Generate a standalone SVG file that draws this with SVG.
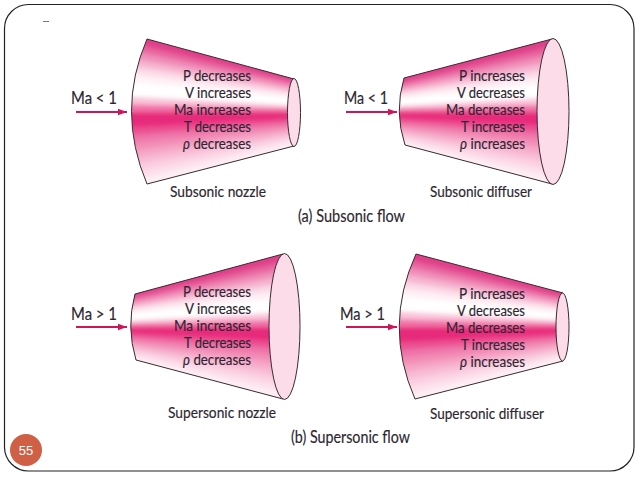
<svg xmlns="http://www.w3.org/2000/svg" xmlns:xlink="http://www.w3.org/1999/xlink" width="638" height="479" viewBox="0 0 638 479">
<style>
text{font-family:"Lato","Liberation Sans",sans-serif;fill:#2c2630;stroke:#2c2630;stroke-width:.15;}
.b{font-size:15px;text-anchor:end;}
.c{font-size:15px;}
.t{font-size:16.5px;}
.m{font-size:16.5px;}
.o{fill:none;stroke:#3a2a30;stroke-width:1;}
.e{fill:#fcdce9;stroke:#3a2a30;stroke-width:1;}
.a{fill:none;stroke:#cf1558;stroke-width:2.2;marker-end:url(#h);}
</style>
<defs>
<marker id="h" markerUnits="userSpaceOnUse" markerWidth="10" markerHeight="8" refX="9.5" refY="4" orient="auto"><path d="M0,.5 L9.5,4 L0,7.5 Z" fill="#cf1558"/></marker>
<filter id="s" x="-10%" y="-10%" width="120%" height="120%"><feGaussianBlur stdDeviation="2"/></filter>
<g id="bands">
<polygon fill="#e03f8a" points="-15,-135 110,-51 110,51 -15,135"/>
<polygon fill="#e866a0" points="-15,-97.3 110,-36.5 110,51 -15,135"/>
<polygon fill="#f08fb9" points="-15,-86.5 110,-32.5 110,51 -15,135"/>
<polygon fill="#f6b5d0" points="-15,-75.7 110,-28.4 110,51 -15,135"/>
<polygon fill="#fbdbe8" points="-15,-64.9 110,-24.4 110,51 -15,135"/>
<polygon fill="#fef2f6" points="-15,-54 110,-20.3 110,51 -15,135"/>
<polygon fill="#ffffff" points="-15,-43.2 110,-16.2 110,51 -15,135"/>
<polygon fill="#f9c4d9" points="-15,-21.6 110,-8.1 110,51 -15,135"/>
<polygon fill="#f272a8" points="-15,-10.8 110,-4.1 110,51 -15,135"/>
<polygon fill="#e82a7c" points="-15,0 110,0 110,51 -15,135"/>
<polygon fill="#ec5092" points="-15,21.6 110,8.1 110,51 -15,135"/>
<polygon fill="#ee74a9" points="-15,32.4 110,12.2 110,51 -15,135"/>
<polygon fill="#f28db6" points="-15,43.2 110,16.2 110,51 -15,135"/>
<polygon fill="#f5a6c6" points="-15,54 110,20.3 110,51 -15,135"/>
<polygon fill="#f8bcd4" points="-15,64.9 110,24.4 110,51 -15,135"/>
<polygon fill="#fad0e1" points="-15,75.7 110,28.4 110,51 -15,135"/>
<polygon fill="#fce0eb" points="-15,86.5 110,32.5 110,51 -15,135"/>
<polygon fill="#fdeef4" points="-15,97.3 110,36.5 110,51 -15,135"/>
</g>
<clipPath id="c1"><path d="M147,39 L294,79 V146 L147,184 Q116,111 147,39 Z"/></clipPath>
<clipPath id="c2"><path d="M552,39 L404,78 Q394,112 405,145 L552,184 Z"/></clipPath>
<clipPath id="c3"><path d="M283,254 L135,294 Q126,327 136,360 L283,399 Z"/></clipPath>
<clipPath id="c4"><path d="M416,254 L563,293 V361 L415,399 Q383,326 416,254 Z"/></clipPath>
</defs>

<rect id="frame" x="4.5" y="4.5" width="629.5" height="466.5" rx="24" ry="24" fill="#fff" stroke="#222" stroke-width="1.2"/>
<rect id="dash" x="43" y="21" width="6" height="1" fill="#777"/>

<g id="subsonic-nozzle">
<g clip-path="url(#c1)"><g filter="url(#s)"><use xlink:href="#bands" href="#bands" transform="translate(147,112) scale(1.47,.725)"/></g></g>
<path class="o" d="M294,79 L147,39 Q116,111 147,184 L294,146"/>
<ellipse class="e" cx="294" cy="112.5" rx="6.5" ry="34"/>
<text class="b" x="251" y="81" textLength="68" lengthAdjust="spacingAndGlyphs">P decreases</text>
<text class="b" x="251" y="98" textLength="66" lengthAdjust="spacingAndGlyphs">V increases</text>
<text class="b" x="251" y="115" textLength="77" lengthAdjust="spacingAndGlyphs">Ma increases</text>
<text class="b" x="251" y="132" textLength="67" lengthAdjust="spacingAndGlyphs">T decreases</text>
<text class="b" x="251" y="149" textLength="68" lengthAdjust="spacingAndGlyphs"><tspan font-style="italic">ρ</tspan> decreases</text>
<text class="c" x="170" y="197" textLength="96" lengthAdjust="spacingAndGlyphs">Subsonic nozzle</text>
<text class="m" x="71" y="104" textLength="46" lengthAdjust="spacingAndGlyphs">Ma &lt; 1</text>
</g>

<g id="subsonic-diffuser">
<g clip-path="url(#c2)"><g filter="url(#s)"><use xlink:href="#bands" href="#bands" transform="translate(552,112) scale(-1.48,.725)"/></g></g>
<path class="o" d="M552,39 L404,78 Q394,112 405,145 L552,184"/>
<ellipse class="e" cx="553" cy="111.5" rx="16" ry="73"/>
<text class="b" x="525" y="81" textLength="66" lengthAdjust="spacingAndGlyphs">P increases</text>
<text class="b" x="525" y="98" textLength="68" lengthAdjust="spacingAndGlyphs">V decreases</text>
<text class="b" x="525" y="115" textLength="79" lengthAdjust="spacingAndGlyphs">Ma decreases</text>
<text class="b" x="525" y="132" textLength="64" lengthAdjust="spacingAndGlyphs">T increases</text>
<text class="b" x="525" y="149" textLength="65" lengthAdjust="spacingAndGlyphs"><tspan font-style="italic">ρ</tspan> increases</text>
<text class="c" x="430" y="197" textLength="102" lengthAdjust="spacingAndGlyphs">Subsonic diffuser</text>
<text class="m" x="344" y="104" textLength="44" lengthAdjust="spacingAndGlyphs">Ma &lt; 1</text>
</g>

<text id="caption-a" class="t" x="298" y="222" textLength="107" lengthAdjust="spacingAndGlyphs">(a) Subsonic flow</text>

<g id="supersonic-nozzle">
<g clip-path="url(#c3)"><g filter="url(#s)"><use xlink:href="#bands" href="#bands" transform="translate(283,327) scale(-1.48,.725)"/></g></g>
<path class="o" d="M283,254 L135,294 Q126,327 136,360 L283,399"/>
<ellipse class="e" cx="284.5" cy="326.5" rx="15.5" ry="73"/>
<text class="b" x="251" y="297" textLength="68" lengthAdjust="spacingAndGlyphs">P decreases</text>
<text class="b" x="251" y="314" textLength="66" lengthAdjust="spacingAndGlyphs">V increases</text>
<text class="b" x="251" y="331" textLength="77" lengthAdjust="spacingAndGlyphs">Ma increases</text>
<text class="b" x="251" y="348" textLength="67" lengthAdjust="spacingAndGlyphs">T decreases</text>
<text class="b" x="251" y="365" textLength="68" lengthAdjust="spacingAndGlyphs"><tspan font-style="italic">ρ</tspan> decreases</text>
<text class="c" x="168" y="418" textLength="108" lengthAdjust="spacingAndGlyphs">Supersonic nozzle</text>
<text class="m" x="71" y="320" textLength="46" lengthAdjust="spacingAndGlyphs">Ma &gt; 1</text>
</g>

<g id="supersonic-diffuser">
<g clip-path="url(#c4)"><g filter="url(#s)"><use xlink:href="#bands" href="#bands" transform="translate(416,327) scale(1.47,.725)"/></g></g>
<path class="o" d="M563,293 L416,254 Q383,326 415,399 L563,361"/>
<ellipse class="e" cx="562.5" cy="327" rx="6.5" ry="34"/>
<text class="b" x="525" y="299" textLength="66" lengthAdjust="spacingAndGlyphs">P increases</text>
<text class="b" x="525" y="316" textLength="68" lengthAdjust="spacingAndGlyphs">V decreases</text>
<text class="b" x="525" y="333" textLength="79" lengthAdjust="spacingAndGlyphs">Ma decreases</text>
<text class="b" x="525" y="350" textLength="64" lengthAdjust="spacingAndGlyphs">T increases</text>
<text class="b" x="525" y="367" textLength="65" lengthAdjust="spacingAndGlyphs"><tspan font-style="italic">ρ</tspan> increases</text>
<text class="c" x="430" y="419" textLength="114" lengthAdjust="spacingAndGlyphs">Supersonic diffuser</text>
<text class="m" x="340" y="320" textLength="45" lengthAdjust="spacingAndGlyphs">Ma &gt; 1</text>
</g>

<text id="caption-b" class="t" x="291" y="443" textLength="119" lengthAdjust="spacingAndGlyphs">(b) Supersonic flow</text>

<g id="connectors">
<line class="a" x1="76" y1="112" x2="127" y2="112"/>
<line class="a" x1="346" y1="112" x2="397" y2="112"/>
<line class="a" x1="76" y1="327" x2="127" y2="327"/>
<line class="a" x1="346" y1="327" x2="397" y2="327"/>
</g>

<g id="page-number">
<circle cx="26" cy="450" r="16" fill="#cf6046"/>
<text x="26" y="454.5" text-anchor="middle" style="font-family:'Liberation Sans',sans-serif;font-size:13px;fill:#fff;stroke:none">55</text>
</g>
</svg>
